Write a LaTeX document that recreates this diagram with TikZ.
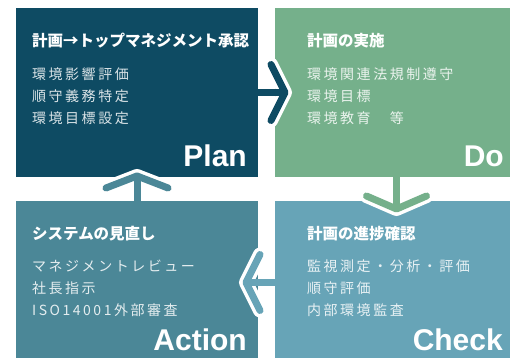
\documentclass[tikz,border=0pt]{standalone}
\usepackage{fontspec}
\setmainfont{Noto Sans CJK JP}
\newfontfamily\phasefont{Liberation Sans}
\usetikzlibrary{positioning}

\definecolor{plancol}{HTML}{0E4B63}
\definecolor{docol}{HTML}{75B08B}
\definecolor{actioncol}{HTML}{4B8797}
\definecolor{checkcol}{HTML}{67A4B7}

\tikzset{
    box/.style={inner sep=0pt, outer sep=0pt, anchor=north west},
    title/.style={text=white, inner sep=0pt, anchor=base west,
        font=\fontsize{15.5}{18}\selectfont\bfseries},
    body/.style={text=white, text opacity=0.85, inner sep=0pt, anchor=base west, align=left,
        font=\fontsize{14}{22}\selectfont\addfontfeature{LetterSpace=18}},
    phase/.style={text=white, inner sep=0pt, anchor=base east,
        font=\phasefont\fontsize{30}{30}\selectfont\bfseries},
    halo/.style={white, line width=14pt, line cap=round, line join=round},
    chevron/.style={line width=7pt, line cap=round, line join=round},
    stem/.style={line width=7pt},
}

\begin{document}
\begin{tikzpicture}[x=1pt, y=1pt]
    \useasboundingbox (0,0) rectangle (512,358);

    % the four boxes
    \node[box, fill=plancol,   minimum width=242pt, minimum height=169pt] (plan)   at (16,350)  {};
    \node[box, fill=docol,     minimum width=235pt, minimum height=169pt] (do)     at (275,350) {};
    \node[box, fill=actioncol, minimum width=242pt, minimum height=157pt] (action) at (16,157)  {};
    \node[box, fill=checkcol,  minimum width=235pt, minimum height=157pt] (check)  at (275,157) {};

    % Plan
    \node[title] (plan title) at ([xshift=16pt, yshift=-39pt]plan.north west) {計画→トップマネジメント承認};
    \node[body]  (plan body)  at ([xshift=16pt, yshift=-116pt]plan.north west) {環境影響評価\\順守義務特定\\環境目標設定};
    \node[phase] (plan label) at ([xshift=-11pt, yshift=10pt]plan.south east) {Plan};

    % Do
    \node[title] (do title) at ([xshift=32pt, yshift=-39pt]do.north west) {計画の実施};
    \node[body]  (do body)  at ([xshift=32pt, yshift=-116pt]do.north west) {環境関連法規制遵守\\環境目標\\環境教育　等};
    \node[phase] (do label) at ([xshift=-6pt, yshift=10pt]do.south east) {Do};

    % Action
    \node[title] (action title) at ([xshift=16pt, yshift=-39pt]action.north west) {システムの見直し};
    \node[body]  (action body)  at ([xshift=16pt, yshift=-115pt]action.north west) {マネジメントレビュー\\社長指示\\ISO14001外部審査};
    \node[phase] (action label) at ([xshift=-11pt, yshift=7pt]action.south east) {Action};

    % Check
    \node[title] (check title) at ([xshift=32pt, yshift=-39pt]check.north west) {計画の進捗確認};
    \node[body]  (check body)  at ([xshift=32pt, yshift=-115pt]check.north west) {監視測定・分析・評価\\順守評価\\内部環境監査};
    \node[phase] (check label) at ([xshift=-7pt, yshift=7pt]check.south east) {Check};

    % Plan -> Do
    \coordinate (pd tip) at ([xshift=27pt]plan.east);
    \draw[halo] ([shift={(-14pt,28pt)}]pd tip) -- (pd tip) -- ([shift={(-14pt,-28pt)}]pd tip);
    \draw[stem, plancol] (plan.east) -- (pd tip);
    \draw[chevron, plancol] ([shift={(-14pt,28pt)}]pd tip) -- (pd tip) -- ([shift={(-14pt,-28pt)}]pd tip);

    % Do -> Check
    \coordinate (dc start) at ([xshift=4pt]do.south);
    \coordinate (dc tip) at ([yshift=-32pt]dc start);
    \draw[halo] ([shift={(-30pt,13pt)}]dc tip) -- (dc tip) -- ([shift={(30pt,13pt)}]dc tip);
    \draw[stem, docol] (dc start) -- (dc tip);
    \draw[chevron, docol] ([shift={(-30pt,13pt)}]dc tip) -- (dc tip) -- ([shift={(30pt,13pt)}]dc tip);

    % Check -> Action
    \coordinate (ca start) at ([yshift=-3pt]check.west);
    \coordinate (ca tip) at ([xshift=-29pt]ca start);
    \draw[halo] ([shift={(14pt,28pt)}]ca tip) -- (ca tip) -- ([shift={(14pt,-28pt)}]ca tip);
    \draw[stem, checkcol] (ca start) -- (ca tip);
    \draw[chevron, checkcol] ([shift={(14pt,28pt)}]ca tip) -- (ca tip) -- ([shift={(14pt,-28pt)}]ca tip);

    % Action -> Plan
    \coordinate (ap tip) at ([yshift=25pt]action.north);
    \draw[halo] ([shift={(-31pt,-12pt)}]ap tip) -- (ap tip) -- ([shift={(31pt,-12pt)}]ap tip);
    \draw[stem, actioncol] (action.north) -- (ap tip);
    \draw[chevron, actioncol] ([shift={(-31pt,-12pt)}]ap tip) -- (ap tip) -- ([shift={(31pt,-12pt)}]ap tip);
\end{tikzpicture}
\end{document}
